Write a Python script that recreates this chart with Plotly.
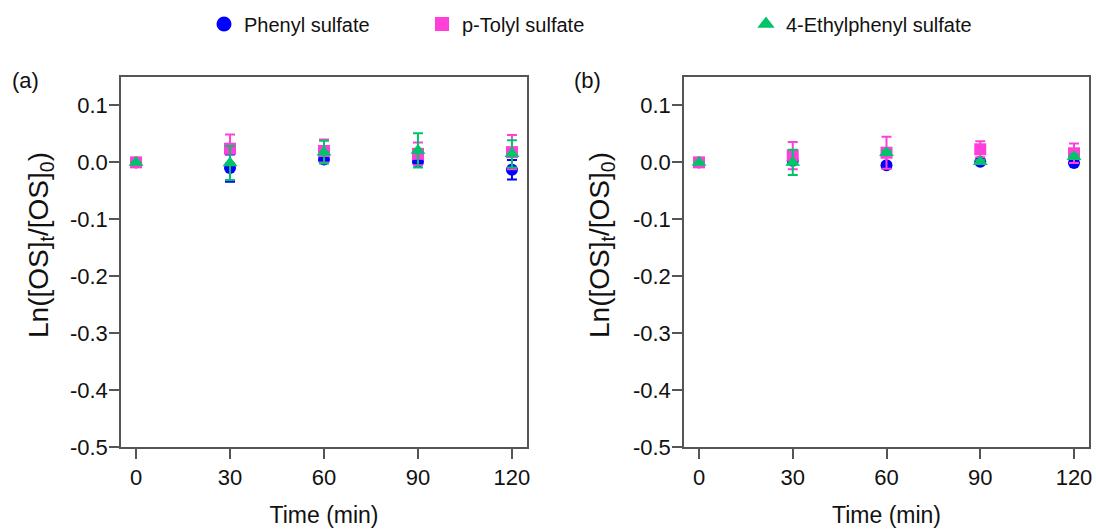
import plotly.graph_objects as go

# ---- data ----
time_min = [0, 30, 60, 90, 120]

phenyl_a = [0.0, -0.010, 0.005, 0.001, -0.013]
phenyl_a_err = [0.0, 0.024, 0.005, 0.003, 0.017]
tolyl_a = [0.0, 0.024, 0.020, 0.015, 0.018]
tolyl_a_err = [0.0, 0.025, 0.020, 0.020, 0.030]
ethyl_a = [0.0, -0.001, 0.018, 0.021, 0.015]
ethyl_a_err = [0.0, 0.030, 0.020, 0.030, 0.024]

phenyl_b = [0.0, 0.003, -0.005, 0.001, -0.001]
phenyl_b_err = [0.0, 0.003, 0.004, 0.003, 0.003]
tolyl_b = [0.0, 0.012, 0.017, 0.023, 0.016]
tolyl_b_err = [0.0, 0.024, 0.028, 0.014, 0.017]
ethyl_b = [0.0, 0.000, 0.017, 0.001, 0.010]
ethyl_b_err = [0.0, 0.022, 0.004, 0.003, 0.004]

series_names = ["Phenyl sulfate", "p-Tolyl sulfate", "4-Ethylphenyl sulfate"]
x_ticks = [0, 30, 60, 90, 120]
y_ticks = [0.1, 0.0, -0.1, -0.2, -0.3, -0.4, -0.5]
y_ticktext = ["0.1", "0.0", "-0.1", "-0.2", "-0.3", "-0.4", "-0.5"]
panel_labels = ["(a)", "(b)"]
y_title = "Ln([OS]<sub>t</sub>/[OS]<sub>0</sub>)"
x_title = "Time (min)"

colors = ["#0000FF", "#FF40D8", "#00C46A"]
symbols = ["circle", "square", "triangle-up"]
msizes = [12, 12, 13]
legend_sizes = [15, 14, 15]

W, H = 1096, 529
FONT = "Liberation Sans, Arial, sans-serif"
TXT = "#111111"

fig = go.Figure()

panels = [
    ("x", "y", [phenyl_a, tolyl_a, ethyl_a], [phenyl_a_err, tolyl_a_err, ethyl_a_err]),
    ("x2", "y2", [phenyl_b, tolyl_b, ethyl_b], [phenyl_b_err, tolyl_b_err, ethyl_b_err]),
]
legend_ids = ["legend", "legend2", "legend3"]
for xa, ya, vals, errs in panels:
    for i in range(3):
        fig.add_trace(go.Scatter(
            x=time_min, y=vals[i], mode="markers", name=series_names[i],
            xaxis=xa, yaxis=ya, legendgroup=series_names[i],
            marker=dict(color=colors[i], symbol=symbols[i], size=msizes[i], line=dict(width=0)),
            error_y=dict(type="data", array=errs[i], visible=True, color=colors[i],
                         thickness=2, width=5),
            showlegend=False,
        ))

# legend entries (no data drawn; larger legend symbols as in the reference)
for i in range(3):
    fig.add_trace(go.Scatter(
        x=[None], y=[None], mode="markers", name=series_names[i],
        legendgroup=series_names[i], legend=legend_ids[i], showlegend=True,
        marker=dict(color=colors[i], symbol=symbols[i], size=legend_sizes[i], line=dict(width=0)),
    ))

axis_line = "#555555"
xd = [[121 / W, 527 / W], [684 / W, 1089 / W]]
yd = [1 - 447 / H, 1 - 77 / H]

common_x = dict(range=[-4.8, 124.8], tickvals=x_ticks, ticks="outside", ticklen=10,
                tickwidth=1.5, tickcolor=axis_line, showline=True, linecolor=axis_line,
                linewidth=1.5, mirror=True, showgrid=False, zeroline=False,
                automargin=False,
                tickfont=dict(family=FONT, size=22, color=TXT),
                ticklabelstandoff=0,
                title=dict(text=x_title, font=dict(family=FONT, size=23, color=TXT),
                           standoff=18))
common_y = dict(range=[-0.5, 0.15], tickvals=y_ticks, ticktext=y_ticktext, ticks="outside",
                ticklen=10, tickwidth=1.5, tickcolor=axis_line, showline=True,
                linecolor=axis_line, linewidth=1.5, mirror=True, showgrid=False,
                zeroline=False, automargin=False,
                tickfont=dict(family=FONT, size=22, color=TXT),
                ticklabelstandoff=-3)

fig.update_layout(
    width=W, height=H, margin=dict(l=0, r=0, t=0, b=0),
    paper_bgcolor="white", plot_bgcolor="white",
    font=dict(family=FONT, size=20, color=TXT),
    xaxis=dict(domain=xd[0], anchor="y", **common_x),
    yaxis=dict(domain=yd, anchor="x", **common_y),
    xaxis2=dict(domain=xd[1], anchor="y2", **common_x),
    yaxis2=dict(domain=yd, anchor="x2", **common_y),
)

leg_common = dict(orientation="h", yanchor="middle", xanchor="left", y=1 - 24 / H,
                  font=dict(family=FONT, size=20, color=TXT),
                  bgcolor="rgba(0,0,0,0)", itemwidth=30)
fig.update_layout(
    legend=dict(x=204 / W, **leg_common),
    legend2=dict(x=422 / W, **leg_common),
    legend3=dict(x=746 / W, **leg_common),
)

for lab, xpix in zip(panel_labels, [10, 572]):
    fig.add_annotation(text=lab, xref="paper", yref="paper", x=xpix / W, y=1 - 80 / H,
                       xanchor="left", yanchor="middle", showarrow=False,
                       font=dict(family=FONT, size=22, color=TXT))

# rotated y-axis titles
for xpix in [40, 601]:
    fig.add_annotation(text=y_title, xref="paper", yref="paper", x=xpix / W, y=1 - 245 / H,
                       xanchor="center", yanchor="middle", textangle=-90, showarrow=False,
                       font=dict(family=FONT, size=28, color=TXT))

fig.write_html("out.html", post_script="document.body.style.margin='0';",
               config={"displayModeBar": False})
